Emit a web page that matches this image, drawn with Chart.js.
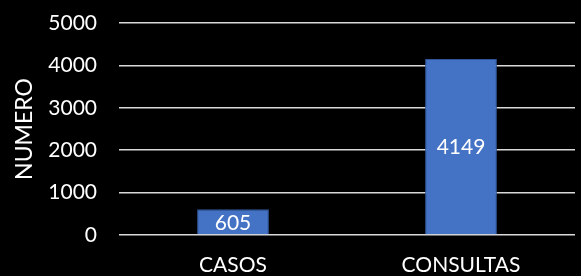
<!DOCTYPE html>
<html>
<head>
<meta charset="utf-8">
<script src="https://cdn.jsdelivr.net/npm/chart.js@4/dist/chart.umd.min.js"></script>
<style>
  html, body { margin: 0; padding: 0; background: #000; }
  #wrap { width: 581px; height: 276px; }
</style>
</head>
<body>
<div id="wrap"><canvas id="grafico"></canvas></div>
<script>
// datos del grafico
const categorias = ['CASOS', 'CONSULTAS'];
const valores = [605, 4149];
const marcasY = [0, 1000, 2000, 3000, 4000, 5000];
const tituloY = 'NUMERO';

const fuente = 'Lato, "Open Sans", sans-serif';
const tam = 21;

// etiquetas de datos en el centro de cada barra
const etiquetasBarras = {
    id: 'etiquetasBarras',
    afterDatasetsDraw(chart) {
        const ctx = chart.ctx;
        const meta = chart.getDatasetMeta(0);
        ctx.save();
        ctx.fillStyle = '#ffffff';
        ctx.font = tam + 'px ' + fuente;
        ctx.textAlign = 'center';
        ctx.textBaseline = 'middle';
        meta.data.forEach((barra, i) => {
            const y = (barra.y + barra.base) / 2;
            ctx.fillText(String(chart.data.datasets[0].data[i]), barra.x, y + 1);
        });
        ctx.restore();
    }
};

new Chart(document.getElementById('grafico'), {
    type: 'bar',
    data: {
        labels: categorias,
        datasets: [{
            data: valores,
            backgroundColor: '#4472C4',
            borderColor: '#2F5597',
            borderWidth: 1,
            barPercentage: 0.315,
            categoryPercentage: 1
        }]
    },
    options: {
        responsive: true,
        maintainAspectRatio: false,
        animation: false,
        layout: { padding: { top: 23, right: 6, left: 0, bottom: 0 } },
        plugins: { legend: { display: false }, tooltip: { enabled: false } },
        scales: {
            x: {
                grid: { display: false },
                border: { display: false },
                ticks: { color: '#ffffff', font: { family: fuente, size: tam }, padding: 10 },
                afterFit: (s) => { s.height = 41; s.paddingLeft = 0; s.paddingRight = 0; }
            },
            y: {
                min: 0,
                max: 5000,
                afterBuildTicks: (s) => { s.ticks = marcasY.map(v => ({ value: v })); },
                grid: { color: '#d9d9d9', lineWidth: 1.5, drawTicks: false },
                border: { display: false },
                ticks: {
                    color: '#ffffff',
                    font: { family: fuente, size: tam },
                    padding: 22,
                    callback: (v) => String(v)
                },
                title: {
                    display: true,
                    text: tituloY,
                    color: '#ffffff',
                    font: { family: fuente, size: 23 },
                    padding: { top: 11, bottom: 0 }
                },
                afterFit: (s) => { s.width = 119; s.paddingTop = 0; s.paddingBottom = 0; }
            }
        }
    },
    plugins: [etiquetasBarras]
});
</script>
</body>
</html>
